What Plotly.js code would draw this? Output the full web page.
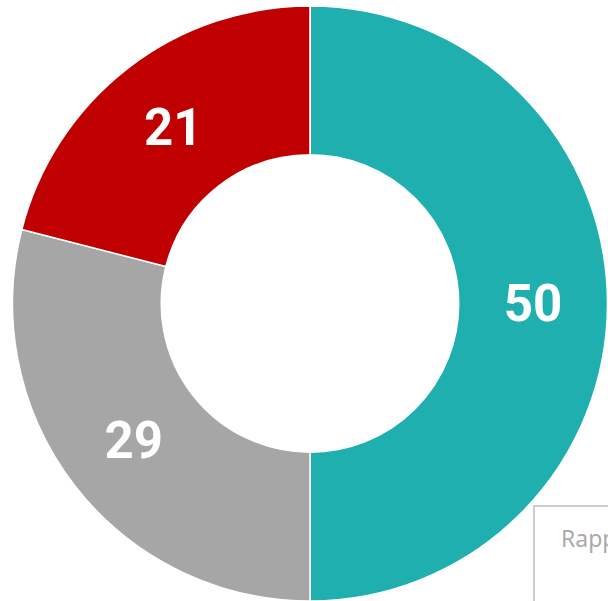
<!DOCTYPE html>
<html>
<head>
<meta charset="utf-8">
<script src="https://cdn.plot.ly/plotly-3.0.1.min.js"></script>
<style>html,body{margin:0;padding:0;background:#fff;}#chart{width:608px;height:601px;}</style>
</head>
<body>
<div id="chart"></div>
<script>
const labels = ["A", "B", "C"];
const values = [50, 29, 21];
const colors = ["#1FAFAE", "#A6A6A6", "#C00000"];
const boxText = "Rapport";

const trace = {
  type: "pie",
  labels: labels,
  values: values,
  sort: false,
  direction: "clockwise",
  rotation: 0,
  hole: 0.5,
  marker: {colors: colors, line: {color: "#ffffff", width: 1.5}},
  texttemplate: "%{value}",
  textposition: "inside",
  insidetextorientation: "horizontal",
  textfont: {family: "Roboto", size: 51, color: "#ffffff", weight: "bold"},
  showlegend: false,
  hoverinfo: "none"
};

const layout = {
  width: 608,
  height: 601,
  margin: {l: 12, r: 0, t: 6, b: 0, pad: 0},
  paper_bgcolor: "#ffffff",
  plot_bgcolor: "#ffffff",
  showlegend: false,
  shapes: [{
    type: "rect", xref: "paper", yref: "paper",
    x0: 0.8758, x1: 1.2, y0: -0.2, y1: 0.1597,
    line: {color: "#cccccc", width: 2},
    fillcolor: "rgba(255,255,255,1)"
  }],
  annotations: [{
    xref: "paper", yref: "paper",
    x: 0.917, y: 0.1059, xanchor: "left", yanchor: "middle",
    text: boxText, showarrow: false,
    font: {family: "Noto Sans", size: 23, color: "#aaaaaa"}
  }]
};

Plotly.newPlot("chart", [trace], layout, {displayModeBar: false, staticPlot: true});
</script>
</body>
</html>
